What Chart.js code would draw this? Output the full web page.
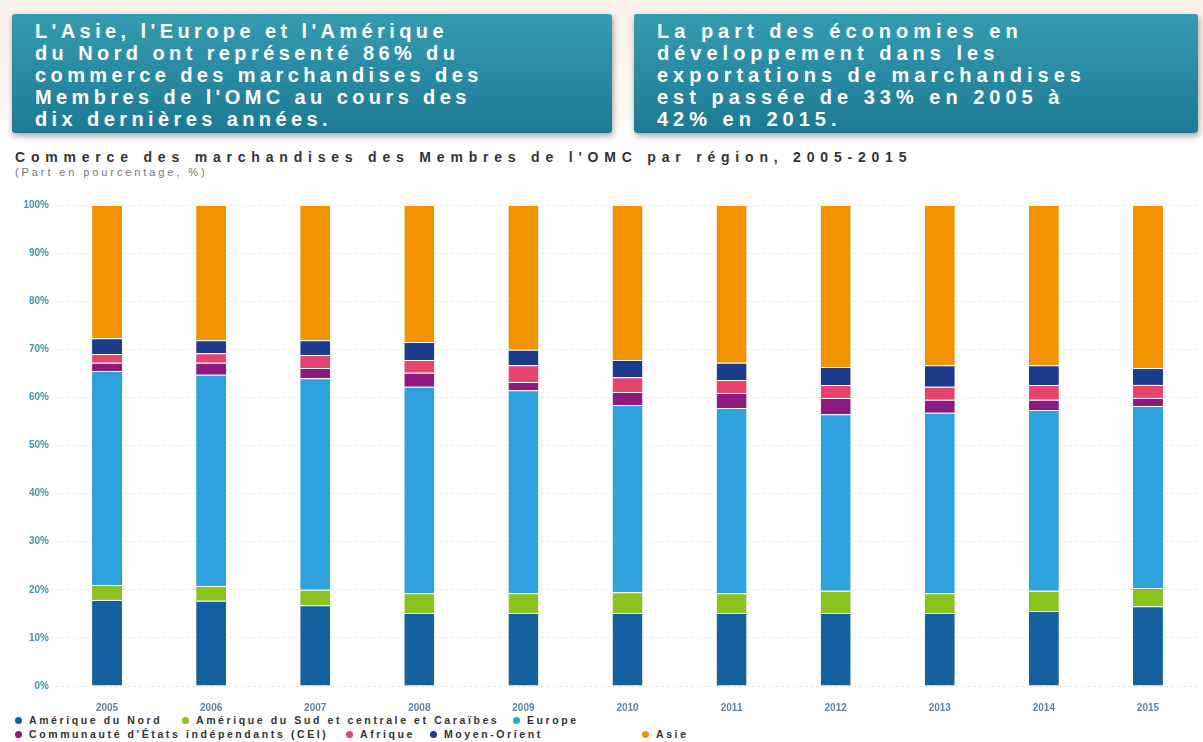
<!DOCTYPE html>
<html lang="fr">
<head>
<meta charset="utf-8">
<title>Commerce des marchandises des Membres de l'OMC par région</title>
<script src="https://cdn.jsdelivr.net/npm/chart.js@4.4.1/dist/chart.umd.min.js"></script>
<style>
  html, body { margin: 0; padding: 0; background: #fff; }
  body {
    width: 1203px; height: 742px; position: relative; overflow: hidden;
    font-family: "Liberation Sans", Arial, sans-serif;
  }
  .topband {
    position: absolute; left: 0; top: 0; width: 1203px; height: 145px;
    background: linear-gradient(180deg, #fcf1e7 0%, #fdf6f0 70%, #ffffff 100%);
  }
  .box {
    position: absolute; top: 14px; height: 119px; box-sizing: border-box;
    padding: 6px 0 0 23px; color: #fff; font-weight: bold; font-size: 20px;
    line-height: 22px; letter-spacing: 4.4px; white-space: nowrap;
    background: linear-gradient(180deg, #359bb0 0%, #2889a2 55%, #1d7a92 100%);
    border-radius: 3px; box-shadow: 1px 3px 6px rgba(0, 0, 0, 0.35);
  }
  #box1 { left: 12px; width: 600px; }
  #box2 { left: 634px; width: 564px; letter-spacing: 5px; }
  .chart-title {
    position: absolute; left: 15px; top: 149px; font-size: 14px; font-weight: bold;
    color: #333; letter-spacing: 5.8px; white-space: nowrap;
  }
  .chart-sub {
    position: absolute; left: 15px; top: 166px; font-size: 11px; color: #777;
    letter-spacing: 2.9px; white-space: nowrap;
  }
  #chart-wrap { position: absolute; left: 0; top: 192px; width: 1203px; height: 522px; }
  .legend-item {
    position: absolute; font-size: 10.5px; font-weight: bold; color: #333;
    letter-spacing: 2.6px; white-space: nowrap; line-height: 12px;
  }
  .legend-item span.dot {
    display: inline-block; width: 7px; height: 7px; border-radius: 50%;
    margin-right: 7px; vertical-align: 0px;
  }
</style>
</head>
<body>
<div class="topband"></div>
<div class="box" id="box1">L'Asie, l'Europe et l'Amérique<br>du Nord ont représenté 86% du<br>commerce des marchandises des<br>Membres de l'OMC au cours des<br>dix dernières années.</div>
<div class="box" id="box2">La part des économies en<br>développement dans les<br>exportations de marchandises<br>est passée de 33% en 2005 à<br>42% en 2015.</div>
<div class="chart-title">Commerce des marchandises des Membres de l'OMC par région, 2005-2015</div>
<div class="chart-sub">(Part en pourcentage, %)</div>
<div id="chart-wrap"><canvas id="chart-regions"></canvas></div>
<div id="legend"></div>

<script>
// Années et parts régionales (%), de bas en haut de chaque barre
const years = ["2005", "2006", "2007", "2008", "2009", "2010", "2011", "2012", "2013", "2014", "2015"];
const ameriqueNord        = [17.9, 17.7, 16.8, 15.2, 15.2, 15.2, 15.2, 15.2, 15.2, 15.6, 16.6];
const ameriqueSudCentrale = [3.1, 3.1, 3.2, 4.1, 4.1, 4.3, 4.1, 4.6, 4.1, 4.2, 3.8];
const europe              = [44.5, 43.9, 44.0, 42.9, 42.2, 38.9, 38.5, 36.7, 37.5, 37.6, 37.8];
const cei                 = [1.7, 2.5, 2.1, 2.9, 1.7, 2.7, 3.1, 3.4, 2.7, 2.1, 1.7];
const afrique             = [1.8, 2.0, 2.7, 2.7, 3.5, 3.1, 2.7, 2.7, 2.7, 3.1, 2.7];
const moyenOrient         = [3.3, 2.7, 3.1, 3.7, 3.2, 3.6, 3.6, 3.7, 4.5, 4.1, 3.5];
const asie                = [27.7, 28.1, 28.1, 28.5, 30.1, 32.2, 32.8, 33.7, 33.3, 33.3, 33.9];

const seriesNames = [
  "Amérique du Nord",
  "Amérique du Sud et centrale et Caraïbes",
  "Europe",
  "Communauté d'États indépendants (CEI)",
  "Afrique",
  "Moyen-Orient",
  "Asie"
];
const seriesValues = [ameriqueNord, ameriqueSudCentrale, europe, cei, afrique, moyenOrient, asie];
const yTicks = [0, 10, 20, 30, 40, 50, 60, 70, 80, 90, 100];

// Couleurs des régions
const colors = ["#15609f", "#8cc21e", "#2ea2dc", "#8c1a80", "#e6446d", "#1d3b8d", "#f39200"];

// Emplacement des entrées de légende (deux lignes)
const legendPos = [
  [15, 714], [182, 714], [513, 714],
  [15, 728], [346, 728], [430, 728], [642, 728]
];

const datasets = seriesNames.map(function(name, i) {
  return {
    label: name,
    data: seriesValues[i],
    backgroundColor: colors[i],
    borderColor: "rgba(255,255,255,0.45)",
    borderWidth: { top: 1, bottom: 0, left: 0, right: 0 },
    borderSkipped: false,
    barPercentage: 0.9,
    categoryPercentage: 0.32
  };
});

const ctx = document.getElementById("chart-regions").getContext("2d");
new Chart(ctx, {
  type: "bar",
  data: { labels: years, datasets: datasets },
  options: {
    responsive: true,
    maintainAspectRatio: false,
    animation: false,
    layout: { padding: { top: 13, right: 3, bottom: 0, left: 0 } },
    plugins: {
      legend: { display: false },
      tooltip: { enabled: false }
    },
    scales: {
      x: {
        stacked: true,
        grid: { display: false },
        border: { display: false },
        ticks: {
          color: "#5b85a3",
          font: { family: "Liberation Sans", size: 10, weight: "bold" },
          padding: 8
        },
        afterFit: function(scale) { scale.height = 28; }
      },
      y: {
        stacked: true,
        min: 0,
        max: 100,
        afterBuildTicks: function(scale) {
          scale.ticks = yTicks.map(function(v) { return { value: v }; });
        },
        grid: { color: "#ececec", drawTicks: false, lineWidth: 1 },
        border: { display: false, dash: [3, 3] },
        ticks: {
          color: "#3f95ab",
          font: { family: "Liberation Sans", size: 10, weight: "bold" },
          padding: 6,
          callback: function(value) { return value + "%"; }
        },
        afterFit: function(scale) { scale.width = 55; }
      }
    }
  }
});

// Légende HTML
const legendEl = document.getElementById("legend");
seriesNames.forEach(function(name, i) {
  const item = document.createElement("div");
  item.className = "legend-item";
  item.style.left = legendPos[i][0] + "px";
  item.style.top = legendPos[i][1] + "px";
  const dot = document.createElement("span");
  dot.className = "dot";
  dot.style.background = colors[i];
  item.appendChild(dot);
  item.appendChild(document.createTextNode(name));
  legendEl.appendChild(item);
});
</script>
</body>
</html>
